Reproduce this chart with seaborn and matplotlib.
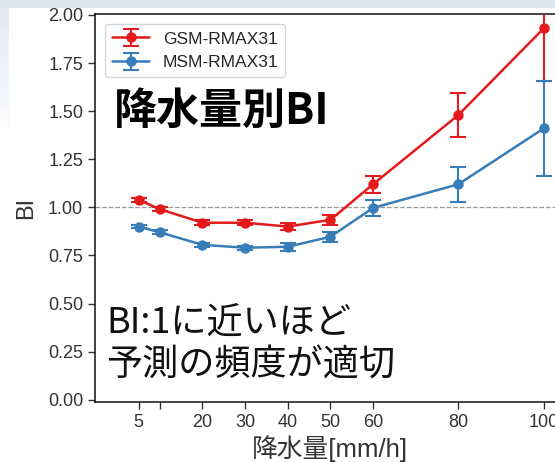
import numpy as np
import pandas as pd
import matplotlib
matplotlib.use("Agg")
import matplotlib.pyplot as plt
from matplotlib.patches import Rectangle
import seaborn as sns

# ---- data ----
rain = [5, 10, 20, 30, 40, 50, 60, 80, 100]
gsm_bi = [1.04, 0.99, 0.92, 0.92, 0.90, 0.935, 1.12, 1.48, 1.93]
gsm_err = [0.01, 0.01, 0.012, 0.012, 0.02, 0.025, 0.045, 0.115, 0.275]
msm_bi = [0.90, 0.87, 0.805, 0.79, 0.795, 0.847, 0.997, 1.12, 1.41]
msm_err = [0.01, 0.01, 0.012, 0.01, 0.02, 0.026, 0.043, 0.09, 0.245]
series_names = ["GSM-RMAX31", "MSM-RMAX31"]
xtick_vals = [5, 10, 20, 30, 40, 50, 60, 80, 100]
xtick_labels = ["5", "", "20", "30", "40", "50", "60", "80", "100"]
ytick_vals = [0.0, 0.25, 0.5, 0.75, 1.0, 1.25, 1.5, 1.75, 2.0]

df = pd.DataFrame({
    "rain": rain * 2,
    "BI": gsm_bi + msm_bi,
    "err": gsm_err + msm_err,
    "model": [series_names[0]] * len(rain) + [series_names[1]] * len(rain),
})

sns.set_style("ticks")
plt.rcParams["font.family"] = ["Liberation Sans", "Noto Sans CJK JP"]

pal = sns.color_palette("Set1", 2)

fig = plt.figure(figsize=(5.55, 4.62), dpi=100)
# slide background bands
fig.patches.append(Rectangle((0, 1 - 8 / 462), 1, 8 / 462, transform=fig.transFigure,
                             facecolor="#dfe7f1", edgecolor="none", zorder=0))
for i in range(12):
    y0 = 1 - (8 + (i + 1) * 10) / 462
    c = np.array([0xe3, 0xea, 0xf3]) / 255 * (1 - i / 14) + np.array([1, 1, 1]) * (i / 14)
    fig.patches.append(Rectangle((0, y0), 9 / 555, 10 / 462, transform=fig.transFigure,
                                 facecolor=c, edgecolor="none", zorder=0))

ax = fig.add_axes([95 / 555, 60 / 462, 470 / 555, 388 / 462])

for name, col in zip(series_names, pal):
    sub = df[df["model"] == name]
    ax.errorbar(sub["rain"], sub["BI"], yerr=sub["err"], color=col, marker="o",
                markersize=6.5, lw=1.8, capsize=6, capthick=1.5, elinewidth=1.5,
                label=name, zorder=3)

ax.axhline(1.0, color="#999999", ls="--", lw=0.9, zorder=1)

ax.set_xlim(-5.2, 105)
ax.set_ylim(-0.012, 2.005)
ax.set_xticks(xtick_vals)
ax.set_xticklabels(xtick_labels)
ax.set_yticks(ytick_vals)
ax.set_yticklabels([f"{v:.2f}" for v in ytick_vals])
ax.tick_params(axis="both", labelsize=13, colors="#333333", length=5, width=1)
for s in ax.spines.values():
    s.set_color("#111111")
    s.set_linewidth(1.1)

ax.set_ylabel("BI", fontsize=17, color="#333333", labelpad=8)
ax.set_xlabel("降水量[mm/h]", fontsize=18.5, color="#333333", labelpad=3)

leg = ax.legend(loc="upper left", fontsize=12.5, frameon=True, borderaxespad=0.6,
                handlelength=2.1, fancybox=True)
leg.get_frame().set_edgecolor("#cccccc")

fig.text(114 / 555, 1 - 111 / 462, "降水量別BI", fontsize=31, fontweight="bold",
         color="black", va="center", ha="left",
         family=["Noto Sans CJK JP", "DejaVu Sans"])
fig.text(106 / 555, 1 - 323 / 462, "BI:1に近いほど", fontsize=26,
         color="#111111", va="center", ha="left",
         family=["Noto Sans CJK JP", "DejaVu Sans"])
fig.text(106 / 555, 1 - 366 / 462, "予測の頻度が適切", fontsize=26,
         color="#111111", va="center", ha="left",
         family=["Noto Sans CJK JP", "DejaVu Sans"])

fig.savefig("out.png", dpi=100)
